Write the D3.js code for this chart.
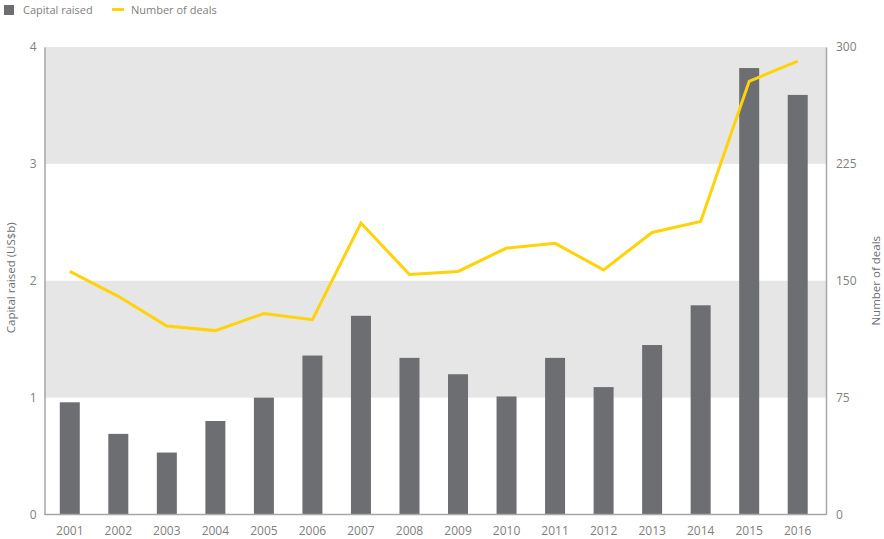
<!DOCTYPE html>
<html><head><meta charset="utf-8">
<script src="https://cdn.jsdelivr.net/npm/d3@7"></script>
<style>
body{margin:0;background:#fff;}
text{font-family:"Open Sans","DejaVu Sans",sans-serif;}
</style></head>
<body><svg id="c" width="884" height="539"></svg>
<script>
const years = ["2001","2002","2003","2004","2005","2006","2007","2008","2009","2010","2011","2012","2013","2014","2015","2016"];
const capitalRaised = [0.96,0.69,0.53,0.80,1.00,1.36,1.70,1.34,1.20,1.01,1.34,1.09,1.45,1.79,3.82,3.59];
const numberOfDeals = [156,140,121,118,129,125,187,154,156,171,174,157,181,188,278,291];
const leftTicks = [0,1,2,3,4];
const rightTicks = [0,75,150,225,300];
const bands = [[1,2],[3,4]];

const svg = d3.select("#c");
const L = 44.5, R = 826, T = 47, B = 514.5;
const x = d3.scaleBand().domain(years).range([L, R - 3]).paddingInner(0.588).paddingOuter(0.315);
const yL = d3.scaleLinear().domain([0,4]).range([B, T]);
const yR = d3.scaleLinear().domain([0,300]).range([B, T]);

// bands
svg.append("g").selectAll("rect").data(bands).join("rect")
  .attr("x", L).attr("width", R - L)
  .attr("y", d => yL(d[1])).attr("height", d => yL(d[0]) - yL(d[1]))
  .attr("fill", "#e5e6e5");

// bars
svg.append("g").selectAll("rect").data(years).join("rect")
  .attr("x", d => x(d)).attr("width", x.bandwidth())
  .attr("y", (d,i) => yL(capitalRaised[i]))
  .attr("height", (d,i) => B - yL(capitalRaised[i]))
  .attr("fill", "#6d6e71");

// line
const line = d3.line().x((d,i) => x(years[i]) + x.bandwidth()/2).y(d => yR(d));
svg.append("path").datum(numberOfDeals).attr("d", line)
  .attr("fill","none").attr("stroke","#ffd20a").attr("stroke-width",3)
  .attr("stroke-linejoin","miter");

// axes
const axisColor = "#a7a7a9", textColor = "#808080";
const gL = svg.append("g").attr("transform", `translate(${L},0)`)
  .call(d3.axisLeft(yL).tickValues(leftTicks).tickSize(0).tickPadding(8).tickFormat(d3.format("d")));
const gR = svg.append("g").attr("transform", `translate(${R},0)`)
  .call(d3.axisRight(yR).tickValues(rightTicks).tickSize(0).tickPadding(10).tickFormat(d3.format("d")));
const gB = svg.append("g").attr("transform", `translate(0,${B})`)
  .call(d3.axisBottom(x).tickSize(0).tickPadding(12));
[gL,gR,gB].forEach(g => {
  g.select(".domain").attr("stroke", axisColor).attr("stroke-width",1.5);
  g.selectAll("text").attr("fill", textColor).style("font-size","12px").style("font-family","'Open Sans','DejaVu Sans',sans-serif");
});
gB.select(".domain").attr("d", `M${L},0H${R}`);

// axis titles
svg.append("text").attr("transform", `translate(15,${(T+B)/2-3}) rotate(-90)`)
  .attr("text-anchor","middle").attr("fill","#6d6e71").style("font-size","11.5px")
  .text("Capital raised (US$b)");
svg.append("text").attr("transform", `translate(880,${(T+B)/2}) rotate(-90)`)
  .attr("text-anchor","middle").attr("fill","#6d6e71").style("font-size","11.5px")
  .text("Number of deals");

// legend
const lg = svg.append("g");
lg.append("rect").attr("x",4).attr("y",5).attr("width",10).attr("height",10).attr("fill","#6d6e71");
lg.append("text").attr("x",23).attr("y",14).attr("fill",textColor).style("font-size","11px").text("Capital raised");
lg.append("line").attr("x1",112).attr("x2",124).attr("y1",9.5).attr("y2",9.5).attr("stroke","#ffd20a").attr("stroke-width",3);
lg.append("text").attr("x",131).attr("y",14).attr("fill",textColor).style("font-size","11px").text("Number of deals");
</script></body></html>
